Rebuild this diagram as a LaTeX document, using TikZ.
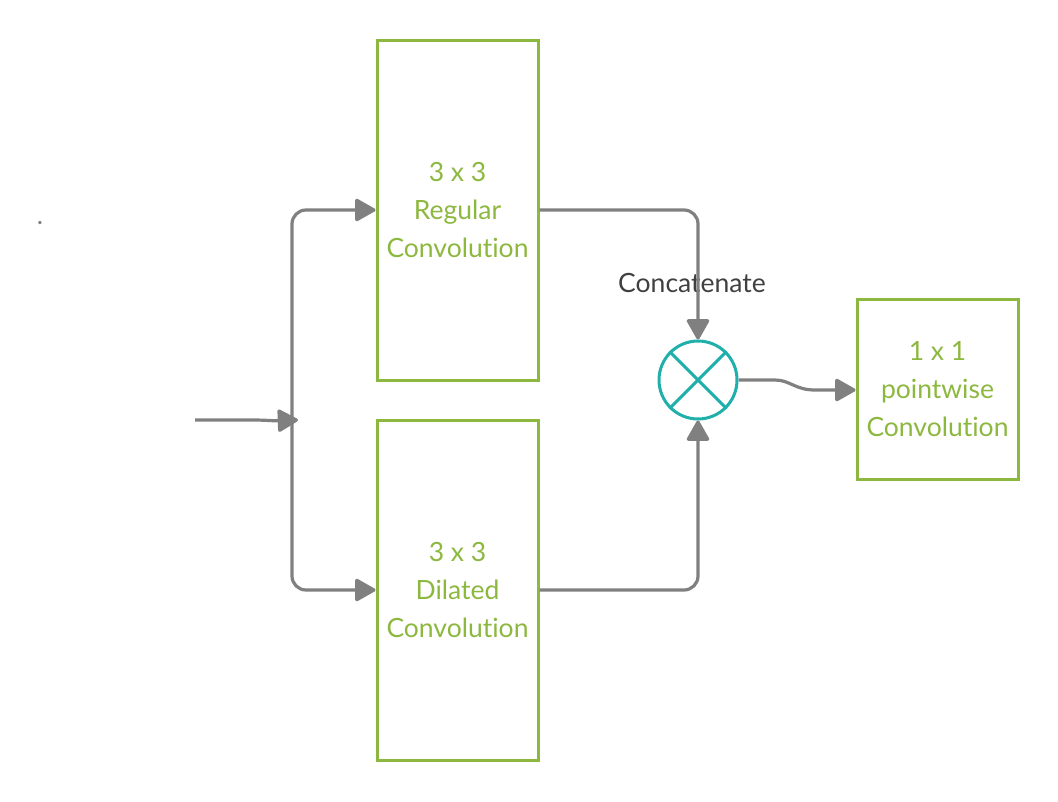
\documentclass[tikz,border=0pt]{standalone}
\usepackage{fontspec}
\setmainfont[Ligatures={NoCommon,NoDiscretionary,NoRare}]{Lato}
\usetikzlibrary{arrows.meta}
\definecolor{boxgreen}{HTML}{8DB840}
\definecolor{teal2}{HTML}{20B0AC}
\definecolor{linegray}{HTML}{808080}
\definecolor{txtgray}{HTML}{404040}
\begin{document}
\begin{tikzpicture}[x=1pt,y=-1pt,
  convbox/.style={draw=boxgreen,line width=3pt,minimum width=161pt,inner sep=0pt,
    text=boxgreen,align=center,font=\fontsize{26.5}{38}\selectfont},
  conn/.style={draw=linegray,line width=3.2pt,rounded corners=14pt,
    -{Triangle[length=22pt,width=24pt,round]}}]
\useasboundingbox (0,0) rectangle (1058,801);
\node[convbox,minimum height=340pt] (reg) at (457.5,210) {3 x 3\\Regular\\Convolution};
\node[convbox,minimum height=340pt] (dil) at (457.5,590) {3 x 3\\Dilated\\Convolution};
\node[convbox,minimum height=180pt] (pw) at (937.5,389) {1 x 1\\pointwise\\Convolution};
\node[draw=teal2,line width=3pt,circle,minimum size=78pt,inner sep=0pt] (cat) at (698,380) {};
\draw[teal2,line width=3pt] (cat.45) -- (cat.225) (cat.135) -- (cat.315);
\node[text=txtgray,font=\fontsize{26.5}{30}\selectfont] (lbl) at (692,283) {Concatenate};
\node[text=linegray,font=\fontsize{26.5}{30}\selectfont] (dot) at (40,223) {.};
\coordinate (in) at (195,420);
\coordinate (split) at (292,420);
\draw[conn,rounded corners=0pt] (in) -- (250,420) .. controls (270,420) and (270,421) .. ([xshift=6pt]split);
\draw[conn] (split) |- (reg.west);
\draw[conn] (split) |- (dil.west);
\draw[conn] (reg.east |- 0,210) -| (cat.north);
\draw[conn] (dil.east |- 0,590) -| (cat.south);
\draw[conn,rounded corners=0pt] (cat.east) -- (775,380) .. controls (790,380) and (795,390) .. (815,390) -- (pw.west |- 0,390);
\end{tikzpicture}
\end{document}
